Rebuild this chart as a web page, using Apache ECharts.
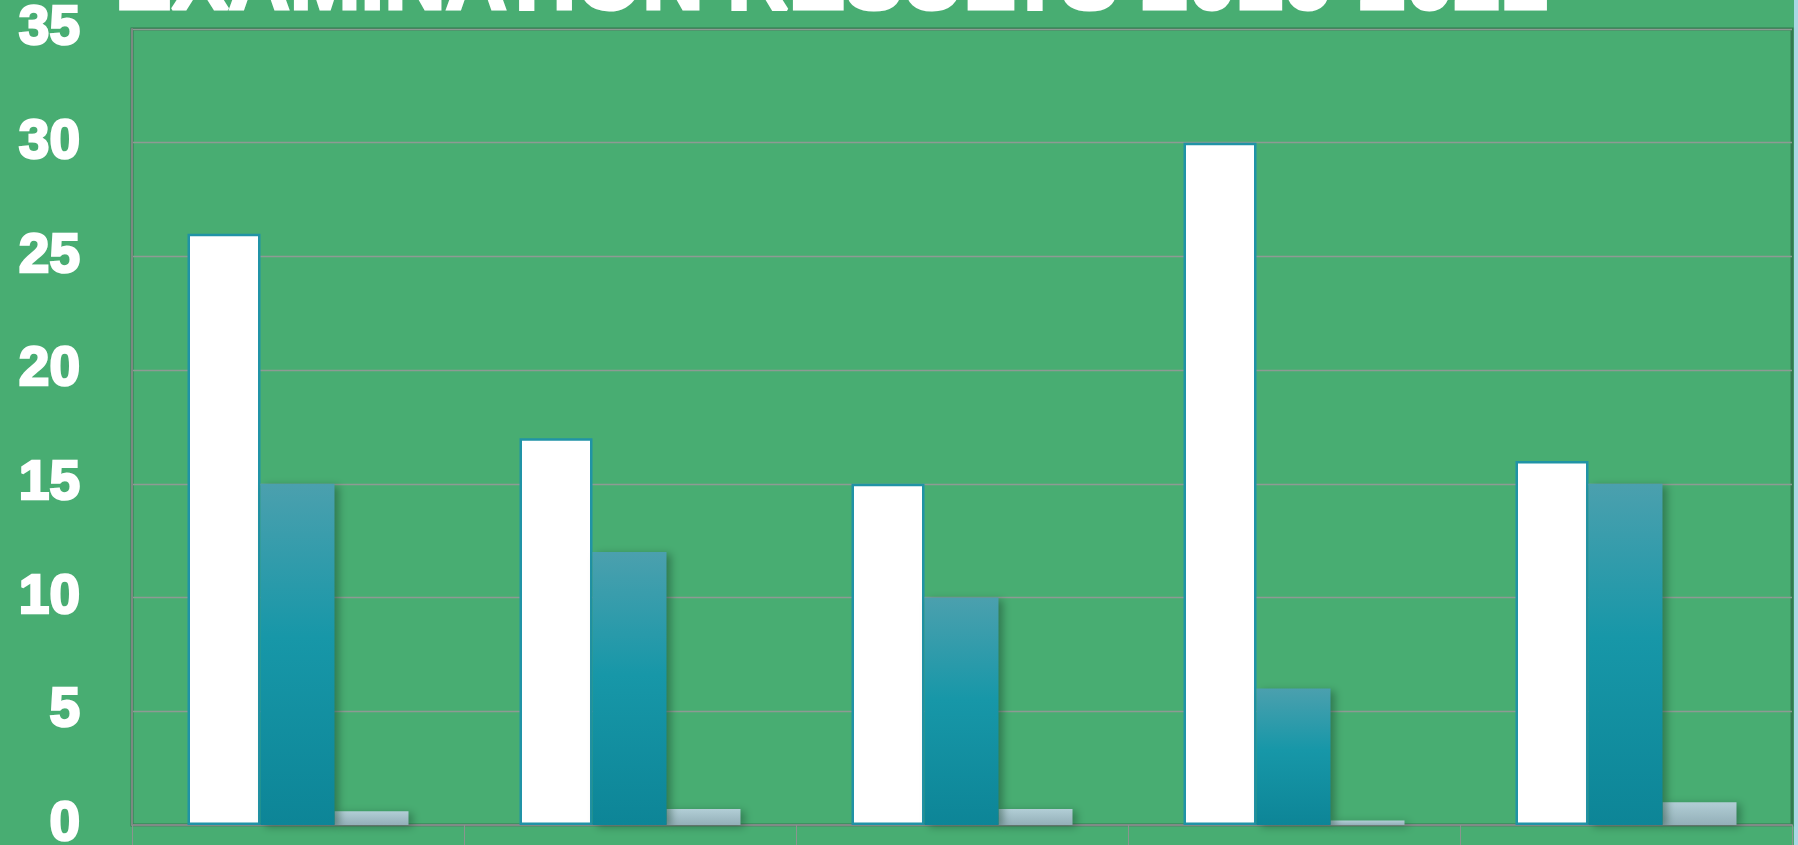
<!DOCTYPE html>
<html>
<head>
<meta charset="utf-8">
<title>Examination Results 2016-2021</title>
<script src="https://cdn.jsdelivr.net/npm/echarts@6/dist/echarts.min.js"></script>
<style>
  html, body { margin: 0; padding: 0; background: #a9d8e4; overflow: hidden; }
  #chart { width: 1794px; height: 845px; }
</style>
</head>
<body>
<div id="chart"></div>
<script>
// 图表数据
const categories = ['2017', '2018', '2019', '2020', '2021']
const seriesNames = ['Passed', 'Failed', 'Absent']
const passed = [26, 17, 15, 30, 16]
const failed = [15, 12, 10, 6, 15]
const absent = [0.6, 0.7, 0.7, 0.2, 1.0]
const yTicks = [0, 5, 10, 15, 20, 25, 30, 35]

const chart = echarts.init(document.getElementById('chart'))

function barShadow(color) {
  return {
    shadowColor: color,
    shadowBlur: 8,
    shadowOffsetX: 4,
    shadowOffsetY: 2
  }
}

chart.setOption({
  backgroundColor: '#48ad72',
  animation: false,
  title: {
    text: 'EXAMINATION RESULTS 2016-2021',
    left: 110,
    top: -62,
    textStyle: {
      color: '#ffffff',
      fontFamily: 'Liberation Sans',
      fontWeight: 'bold',
      fontSize: 85,
      textBorderColor: '#ffffff',
      textBorderWidth: 3
    }
  },
  grid: {
    left: 132,
    right: 2,
    top: 29,
    bottom: 20,
    show: true,
    borderColor: '#33784f',
    borderWidth: 3,
    containLabel: false,
    outerBoundsMode: 'none'
  },
  xAxis: {
    type: 'category',
    data: categories,
    axisLine: { show: true, lineStyle: { color: '#808a86', width: 2 } },
    axisTick: { show: true, length: 30, lineStyle: { color: '#8a948f', width: 1 } },
    axisLabel: { show: false },
    splitLine: { show: false }
  },
  yAxis: {
    type: 'value',
    min: yTicks[0],
    max: yTicks[yTicks.length - 1],
    interval: 5,
    axisLine: { show: true, lineStyle: { color: '#7b8a82', width: 2 } },
    axisTick: { show: false },
    splitLine: { lineStyle: { color: '#8e9a94', width: 1.3 } },
    axisLabel: {
      color: '#ffffff',
      fontFamily: 'Liberation Sans',
      fontWeight: 'bold',
      fontSize: 55,
      margin: 52,
      textBorderColor: '#ffffff',
      textBorderWidth: 2.5
    }
  },
  series: [
    {
      name: seriesNames[0],
      type: 'bar',
      data: passed,
      barWidth: 73,
      barGap: '0%',
      itemStyle: {
        color: '#ffffff',
        borderColor: '#2093a6',
        borderWidth: 2.5
      }
    },
    {
      name: seriesNames[1],
      type: 'bar',
      data: failed,
      barWidth: 74,
      barGap: '0%',
      z: 3,
      itemStyle: Object.assign({
        color: new echarts.graphic.LinearGradient(0, 0, 0, 1, [
          { offset: 0, color: '#4ba0ae' },
          { offset: 0.45, color: '#1797a8' },
          { offset: 1, color: '#0d8597' }
        ])
      }, barShadow('rgba(20, 60, 40, 0.45)'))
    },
    {
      name: seriesNames[2],
      type: 'bar',
      data: absent,
      barWidth: 74,
      barGap: '0%',
      itemStyle: Object.assign({
        color: new echarts.graphic.LinearGradient(0, 0, 0, 1, [
          { offset: 0, color: '#b2ced6' },
          { offset: 1, color: '#93afb8' }
        ])
      }, barShadow('rgba(20, 60, 40, 0.45)'))
    }
  ]
})
</script>
</body>
</html>
